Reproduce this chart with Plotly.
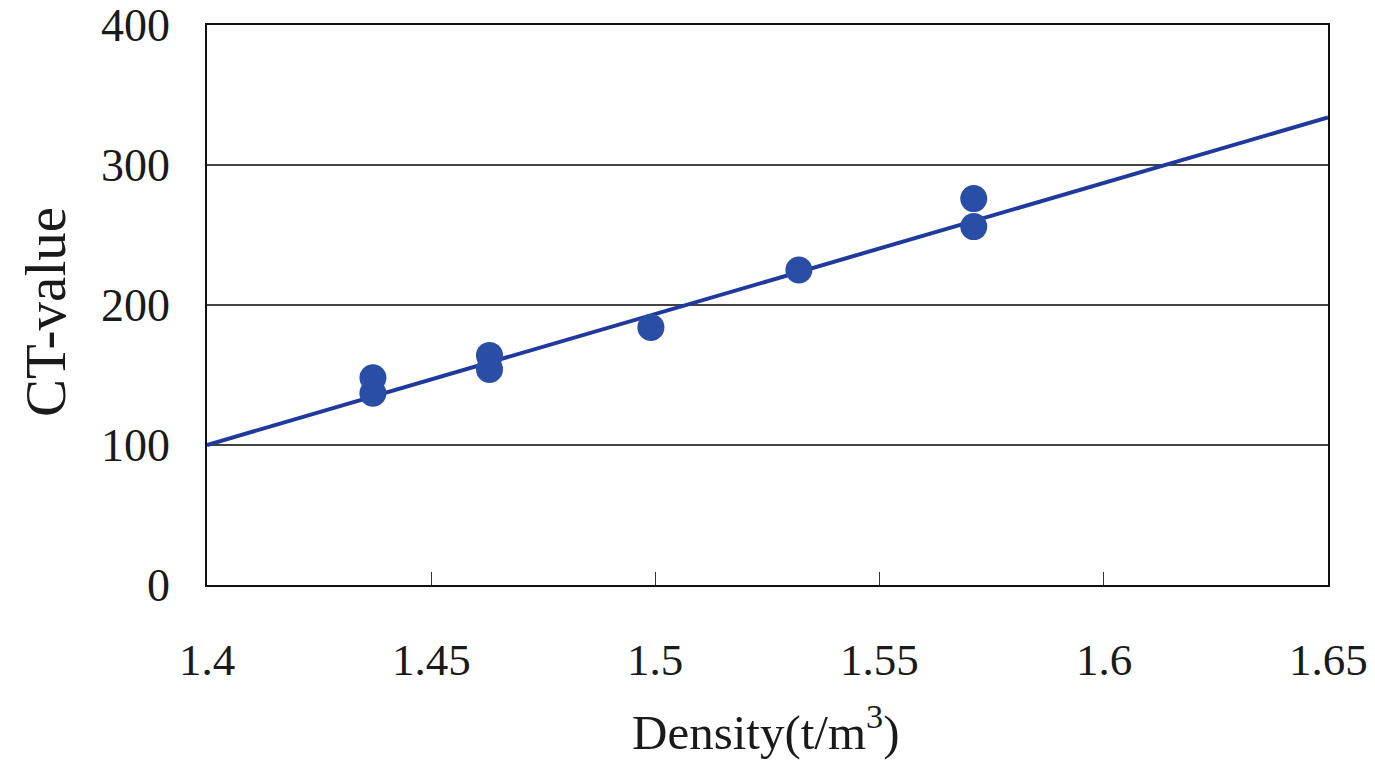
import plotly.graph_objects as go

density = [1.437, 1.437, 1.463, 1.463, 1.499, 1.532, 1.571, 1.571]
ct_value = [148, 137, 164, 154, 184, 225, 276, 256]

fit_x = [1.4, 1.65]
fit_y = [100, 334]

x_ticks = [1.4, 1.45, 1.5, 1.55, 1.6, 1.65]
x_tick_text = ["1.4", "1.45", "1.5", "1.55", "1.6", "1.65"]
y_ticks = [0, 100, 200, 300, 400]
y_tick_text = ["0", "100", "200", "300", "400"]

font_family = "Liberation Serif"
text_color = "#1a1a1a"

# page body has an 8px margin; figure sized to fit the 1375x775 window
W, H = 1359, 759
L, T = 199, 17
plot_w, plot_h = 1121, 560
R = W - L - plot_w
B = H - T - plot_h

fig = go.Figure()
fig.add_trace(go.Scatter(x=fit_x, y=fit_y, mode="lines",
                         line=dict(color="#1f3a9c", width=4), showlegend=False))
fig.add_trace(go.Scatter(x=density, y=ct_value, mode="markers",
                         marker=dict(color="#2a4ea6", size=27), showlegend=False))

fig.update_layout(
    width=W, height=H,
    margin=dict(l=L, r=R, t=T, b=B, pad=0),
    paper_bgcolor="white", plot_bgcolor="white",
    font=dict(family=font_family, color=text_color),
)
fig.update_xaxes(
    range=[1.4, 1.65], tickvals=x_ticks, showticklabels=False,
    ticks="inside", ticklen=13, tickcolor="#333", tickwidth=1,
    showline=True, linecolor="#111", linewidth=2, mirror=True,
    showgrid=False, zeroline=False, automargin=False,
)
fig.update_yaxes(
    range=[0, 400], tickvals=y_ticks, showticklabels=False,
    ticks="", showline=True, linecolor="#111", linewidth=2, mirror=True,
    showgrid=True, gridcolor="#444", gridwidth=1.5, zeroline=False,
    automargin=False,
)

# tick labels placed on the axes' own scales (kept visible at the page edges)
for v, t in zip(x_ticks, x_tick_text):
    fig.add_annotation(text=t, xref="x", yref="paper", x=v, y=(T + plot_h - 652) / plot_h,
                       xanchor="center", yanchor="middle", showarrow=False,
                       font=dict(size=45, family=font_family, color=text_color))
for v, t in zip(y_ticks, y_tick_text):
    fig.add_annotation(text=t, xref="paper", yref="y", x=(164 - L) / plot_w, y=v,
                       xanchor="right", yanchor="middle", showarrow=False,
                       font=dict(size=46, family=font_family, color=text_color))

fig.add_annotation(text="CT-value", xref="paper", yref="paper",
                   x=(37 - L) / plot_w, y=(T + plot_h - 304) / plot_h,
                   xanchor="center", yanchor="middle", textangle=-90,
                   showarrow=False, font=dict(size=57, family=font_family, color=text_color))
fig.add_annotation(text="Density(t/m<sup>3</sup>)", xref="paper", yref="paper",
                   x=(758 - L) / plot_w, y=(T + plot_h - 720) / plot_h,
                   xanchor="center", yanchor="middle",
                   showarrow=False, font=dict(size=49, family=font_family, color=text_color))

fig.write_html("out.html")
